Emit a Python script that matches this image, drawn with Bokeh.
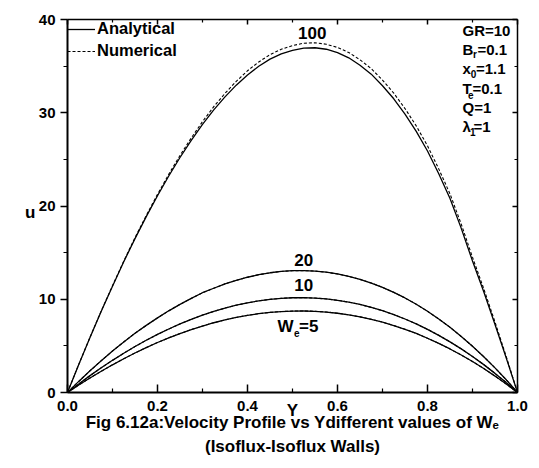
from bokeh.plotting import figure
from bokeh.models import Range1d, LinearAxis, Label, Legend, LegendItem, FixedTicker, PrintfTickFormatter
from bokeh.embed import file_html
from bokeh.resources import INLINE

# ---- data ----
Y = [0.0, 0.025, 0.05, 0.075, 0.10, 0.125, 0.15, 0.175, 0.20, 0.225, 0.25, 0.275,
     0.30, 0.325, 0.35, 0.375, 0.40, 0.425, 0.45, 0.475, 0.50, 0.525, 0.55, 0.575,
     0.60, 0.625, 0.65, 0.675, 0.70, 0.725, 0.75, 0.775, 0.80, 0.825, 0.85, 0.875,
     0.90, 0.925, 0.95, 0.975, 1.0]

u100_analytical = [0, 3.0, 5.9, 8.72, 11.4, 14.02, 16.5, 18.86, 21.1, 23.22, 25.2, 27.04,
                   28.75, 30.31, 31.7, 32.96, 34.05, 34.98, 35.75, 36.32, 36.7, 36.94, 36.97, 36.81,
                   36.45, 35.89, 35.1, 34.14, 32.9, 31.5, 29.85, 28.0, 25.9, 23.45, 20.8, 17.6,
                   14.1, 10.8, 7.3, 3.7, 0]
u100_numerical = [0, 3.0, 5.92, 8.75, 11.45, 14.09, 16.6, 18.98, 21.25, 23.4, 25.42, 27.29,
                  29.05, 30.65, 32.08, 33.37, 34.5, 35.45, 36.23, 36.81, 37.2, 37.46, 37.5, 37.35,
                  37.0, 36.46, 35.68, 34.73, 33.5, 32.1, 30.45, 28.59, 26.45, 23.98, 21.3, 18.05,
                  14.5, 11.13, 7.55, 3.85, 0]
u20_analytical = [0, 1.19, 2.33, 3.41, 4.45, 5.42, 6.35, 7.2, 8.0, 8.76, 9.45, 10.09,
                  10.7, 11.18, 11.65, 12.03, 12.36, 12.63, 12.84, 12.98, 13.06, 13.07, 13.02, 12.9,
                  12.71, 12.46, 12.13, 11.74, 11.28, 10.74, 10.14, 9.46, 8.71, 7.88, 6.99, 6.01,
                  4.96, 3.84, 2.64, 1.36, 0]
u10_analytical = [0, 0.92, 1.81, 2.65, 3.45, 4.21, 4.93, 5.6, 6.23, 6.81, 7.35, 7.85,
                  8.3, 8.7, 9.05, 9.36, 9.62, 9.83, 9.99, 10.1, 10.16, 10.17, 10.13, 10.03,
                  9.89, 9.69, 9.44, 9.13, 8.77, 8.36, 7.88, 7.36, 6.77, 6.13, 5.43, 4.68,
                  3.86, 2.99, 2.05, 1.06, 0]
u5_analytical = [0, 0.8, 1.56, 2.28, 2.97, 3.62, 4.24, 4.82, 5.36, 5.86, 6.32, 6.75,
                 7.13, 7.48, 7.78, 8.05, 8.27, 8.45, 8.59, 8.68, 8.73, 8.74, 8.71, 8.63,
                 8.5, 8.33, 8.11, 7.85, 7.54, 7.18, 6.78, 6.33, 5.82, 5.27, 4.67, 4.02,
                 3.32, 2.57, 1.76, 0.91, 0]
# the numerical solutions for W_e = 20, 10, 5 lie on top of the analytical ones
u20_numerical = list(u20_analytical)
u10_numerical = list(u10_analytical)
u5_numerical = list(u5_analytical)

x_ticks = [0.0, 0.2, 0.4, 0.6, 0.8, 1.0]
x_minor = [0.1, 0.3, 0.5, 0.7, 0.9]
y_ticks = [0, 10, 20, 30, 40]
y_minor = [5, 15, 25, 35]

FONT = "Liberation Sans"

p = figure(width=539, height=468, x_range=Range1d(0, 1), y_range=Range1d(0, 40),
           output_backend="svg", toolbar_location=None,
           x_axis_location=None, y_axis_location=None,
           min_border_left=67, min_border_right=22, min_border_top=19, min_border_bottom=76)
p.xgrid.visible = False
p.ygrid.visible = False
p.outline_line_color = None
p.background_fill_color = "white"
p.border_fill_color = "white"

xt = FixedTicker(ticks=x_ticks, minor_ticks=x_minor)
yt = FixedTicker(ticks=y_ticks, minor_ticks=y_minor)


def style_axis(ax, show_labels, tin, tout, mtin, mtout, lw):
    ax.axis_line_color = "black"
    ax.axis_line_width = lw
    ax.major_tick_line_color = "black"
    ax.minor_tick_line_color = "black"
    ax.major_tick_line_width = 1.5
    ax.minor_tick_line_width = 1.2
    ax.major_tick_in = tin
    ax.major_tick_out = tout
    ax.minor_tick_in = mtin
    ax.minor_tick_out = mtout
    ax.major_label_text_font = FONT
    ax.major_label_text_font_style = "bold"
    ax.major_label_text_font_size = "15px"
    ax.major_label_text_color = "black" if show_labels else None


def style_title(ax, size="17px"):
    ax.axis_label_text_font = FONT
    ax.axis_label_text_font_style = "bold"
    ax.axis_label_text_font_size = size
    ax.axis_label_text_color = "black"


xb = LinearAxis(ticker=xt, formatter=PrintfTickFormatter(format="%.1f"))
style_axis(xb, True, 8, 0, 4, 0, 2)
xb.major_label_standoff = 8
xb.axis_label = "Y"
style_title(xb)
xb.axis_label_standoff = -13
p.add_layout(xb, "below")

# caption, drawn as the label of a bare axis under the x axis
xc = LinearAxis(ticker=FixedTicker(ticks=[]))
xc.axis_line_color = None
xc.major_tick_line_color = None
xc.minor_tick_line_color = None
xc.major_label_text_color = None
xc.axis_label = "Fig 6.12a:Velocity Profile vs Ydifferent values of W\u2091\n(Isoflux-Isoflux Walls)"
style_title(xc)
xc.axis_label_text_line_height = 1.3
xc.axis_label_standoff = -10
p.add_layout(xc, "below")

xa = LinearAxis(ticker=xt)
style_axis(xa, False, 5, 0, 3, 0, 1.5)
p.add_layout(xa, "above")

yl = LinearAxis(ticker=yt)
style_axis(yl, True, 0, 7, 0, 4, 2)
yl.major_label_standoff = 5
p.add_layout(yl, "left")

# "u" title, drawn as a horizontal tick label of a bare axis left of the y axis
yu = LinearAxis(ticker=FixedTicker(ticks=[19.3]), major_label_overrides={19.3: "u"})
yu.axis_line_color = None
yu.major_tick_line_color = None
yu.minor_tick_line_color = None
yu.major_tick_in = 0
yu.major_tick_out = 0
yu.major_label_standoff = 0
yu.major_label_text_font = FONT
yu.major_label_text_font_style = "bold"
yu.major_label_text_font_size = "17px"
yu.major_label_text_color = "black"
p.add_layout(yu, "left")

yr = LinearAxis(ticker=yt)
style_axis(yr, False, 5, 0, 3, 0, 1.5)
p.add_layout(yr, "right")

analytical = [u100_analytical, u20_analytical, u10_analytical, u5_analytical]
numerical = [u100_numerical, u20_numerical, u10_numerical, u5_numerical]
ra = [p.line(Y, s, line_color="black", line_width=1.3) for s in analytical]
rn = [p.line(Y, s, line_color="black", line_width=1.1, line_dash="3 2") for s in numerical]

legend = Legend(items=[LegendItem(label="Analytical", renderers=[ra[0]]),
                       LegendItem(label="Numerical", renderers=[rn[0]])],
                location="top_left", border_line_color=None, background_fill_alpha=0,
                label_text_font=FONT, label_text_font_style="bold", label_text_font_size="16.5px",
                label_text_color="black",
                glyph_width=28, glyph_height=16, label_height=16, spacing=3, padding=8, margin=0,
                label_standoff=2)
p.add_layout(legend)


def px2x(px):
    return (px - 67) / 450.0


def px2y(py):
    return (392.3 - py) / 9.33


def txt(x, y, s, size, align="left", baseline="middle"):
    p.add_layout(Label(x=x, y=y, text=s, text_font=FONT, text_font_style="bold",
                       text_font_size=size, text_color="black",
                       text_align=align, text_baseline=baseline))


# curve labels
txt(px2x(311.7), px2y(32.3), "100", "17px", "center")
txt(px2x(303.3), px2y(259.3), "20", "17px", "center")
txt(px2x(303.3), px2y(284.3), "10", "17px", "center")
txt(px2x(277), px2y(326.7), "W", "17px")
txt(px2x(293.5), px2y(332.5), "e", "10px")
txt(px2x(298.5), px2y(326.7), "=5", "17px")

# parameter block
rows = [30, 49.3, 68.6, 87.9, 107.2, 126.5]
x0 = 462
txt(px2x(x0), px2y(rows[0]), "GR=10", "15px")
txt(px2x(x0), px2y(rows[1]), "B", "15px")
txt(px2x(x0 + 10.5), px2y(rows[1] + 5), "r", "10px")
txt(px2x(x0 + 15), px2y(rows[1]), "=0.1", "15px")
txt(px2x(x0), px2y(rows[2]), "x", "15px")
txt(px2x(x0 + 8.3), px2y(rows[2] + 5), "0", "10px")
txt(px2x(x0 + 13.5), px2y(rows[2]), "=1.1", "15px")
txt(px2x(x0), px2y(rows[3]), "T", "15px")
txt(px2x(x0 + 5.5), px2y(rows[3] + 7), "e", "10px")
txt(px2x(x0 + 10), px2y(rows[3]), "=0.1", "15px")
txt(px2x(x0), px2y(rows[4]), "Q=1", "15px")
txt(px2x(x0), px2y(rows[5]), "\u03bb", "15px")
txt(px2x(x0 + 7.5), px2y(rows[5] + 5), "1", "10px")
txt(px2x(x0 + 11), px2y(rows[5]), "=1", "15px")

open("out.html", "w").write(file_html(p, INLINE))
